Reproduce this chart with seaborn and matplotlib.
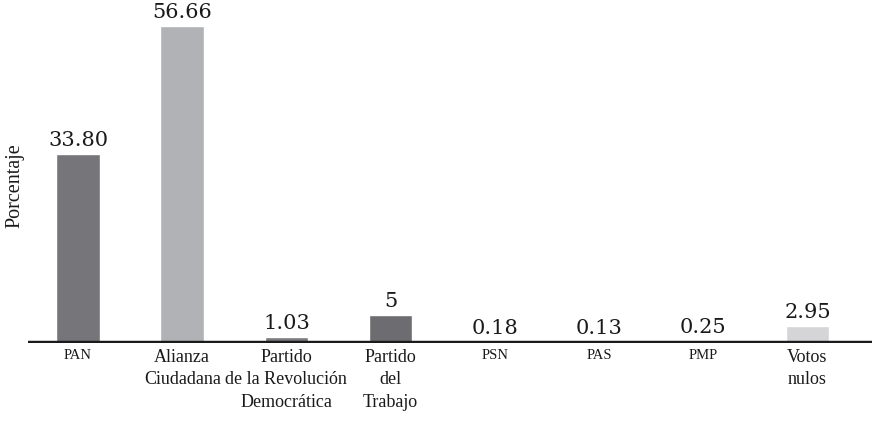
import matplotlib
matplotlib.use("Agg")
import matplotlib.pyplot as plt
import seaborn as sns
import pandas as pd

categories = ["PAN", "Alianza\nCiudadana", "Partido\nde la Revolución\nDemocrática",
              "Partido\ndel\nTrabajo", "PSN", "PAS", "PMP", "Votos\nnulos"]
values = [33.80, 56.66, 1.03, 5.0, 0.18, 0.13, 0.25, 2.95]
value_labels = ["33.80", "56.66", "1.03", "5", "0.18", "0.13", "0.25", "2.95"]
small_caps = [True, False, False, False, True, True, True, False]
colors = ["#75757a", "#b1b2b6", "#7b7b80", "#6d6d71", "#7b7b80", "#7b7b80", "#7b7b80", "#d5d5d7"]

sns.set_theme(style="white")
plt.rcParams["font.family"] = ["Liberation Serif", "DejaVu Serif"]

df = pd.DataFrame({"cat": categories, "val": values})

fig = plt.figure(figsize=(8.72, 4.25), dpi=100)
ax = fig.add_axes([28 / 872, 82 / 425, 844 / 872, 343 / 425])
sns.barplot(data=df, x="cat", y="val", hue="cat", palette=colors, legend=False,
            width=0.42, ax=ax, saturation=1)

ax.set_ylim(0, 61.25)
ax.set_xlim(-0.48, 7.62)
for s in ax.spines.values():
    s.set_visible(False)
ax.axhline(0, color="#1a1a1a", lw=3.2, zorder=5)
ax.set_yticks([])
ax.set_xlabel("")
ax.set_ylabel("Porcentaje", fontsize=14.5, color="#1a1a1a")
ax.yaxis.set_label_coords(-0.004, 0.46)

ax.set_xticks(range(len(categories)))
ax.set_xticklabels([])
ax.tick_params(axis="x", length=0)
for i, (c, sc) in enumerate(zip(categories, small_caps)):
    ax.annotate(c, xy=(i, 0), xycoords=("data", "data"), xytext=(0, -4),
                textcoords="offset points", ha="center", va="top",
                fontsize=10.5 if sc else 13, linespacing=1.45, color="#1a1a1a")

for i, (v, lab) in enumerate(zip(values, value_labels)):
    ax.annotate(lab, xy=(i, v), xytext=(0, 3), textcoords="offset points",
                ha="center", va="bottom", fontsize=15, family="DejaVu Serif",
                color="#1a1a1a")

fig.savefig("out.png", dpi=100)
